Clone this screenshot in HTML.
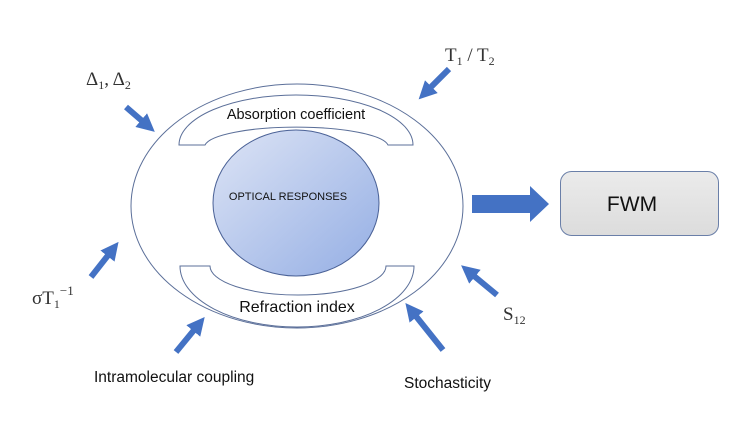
<!DOCTYPE html>
<html><head><meta charset="utf-8"><style>
html,body{margin:0;padding:0;background:#fff;}
svg{display:block;}
</style></head><body>
<svg width="740" height="438" viewBox="0 0 740 438" xmlns="http://www.w3.org/2000/svg">
<defs>
<linearGradient id="g" x1="0" y1="0" x2="1" y2="1">
<stop offset="0" stop-color="#dde4f5"/><stop offset="1" stop-color="#94aee4"/>
</linearGradient>
<linearGradient id="b" x1="0" y1="0" x2="0" y2="1">
<stop offset="0" stop-color="#ebebeb"/><stop offset="1" stop-color="#dcdcdc"/>
</linearGradient>
<marker id="ah" viewBox="0 0 10 10" refX="5" refY="5" markerWidth="3" markerHeight="3" orient="auto">
<path d="M0,0 L10,5 L0,10 Z" fill="#4472c4"/>
</marker>
</defs>
<ellipse cx="297" cy="206" rx="166" ry="122" fill="none" stroke="#5b6f99" stroke-width="1"/>
<path d="M179,145 A117,50 0 0 1 413,145 L388,145 A92,20 0 0 0 205,145 Z" fill="#fff" stroke="#5b6f99" stroke-width="1"/>
<path d="M180,266 L210,266 A88,29 0 0 0 386,266 L414,266 A117,61 0 0 1 180,266 Z" fill="#fff" stroke="#5b6f99" stroke-width="1"/>
<ellipse cx="296" cy="203" rx="83" ry="73" fill="url(#g)" stroke="#4a6196" stroke-width="1"/>
<g font-family="Liberation Sans, sans-serif" fill="#111">
<text x="296" y="119" font-size="14.5" text-anchor="middle">Absorption  coefficient</text>
<text x="297" y="312" font-size="16" text-anchor="middle">Refraction index</text>
<text x="288" y="200" font-size="11" text-anchor="middle">OPTICAL RESPONSES</text>
<text x="94" y="382" font-size="15.5">Intramolecular coupling</text>
<text x="404" y="388" font-size="15.5">Stochasticity</text>
</g>
<g stroke="#4472c4" stroke-width="6" marker-end="url(#ah)" fill="none">
<line x1="126" y1="107" x2="148" y2="126"/>
<line x1="449" y1="69" x2="425" y2="93"/>
<line x1="91" y1="277" x2="113" y2="249"/>
<line x1="176" y1="352" x2="199" y2="324"/>
<line x1="443" y1="350" x2="411" y2="310"/>
<line x1="497" y1="295" x2="468" y2="271"/>
</g>
<path d="M472,195 L530,195 L530,186 L549,204 L530,222 L530,213 L472,213 Z" fill="#4472c4"/>
<rect x="560.5" y="171.5" width="158" height="64" rx="11" fill="url(#b)" stroke="#6a7fa8" stroke-width="1"/>
<text x="632" y="211" font-family="Liberation Sans, sans-serif" font-size="21" text-anchor="middle" fill="#111">FWM</text>
<g font-family="Liberation Serif, serif" fill="#333">
<text x="86" y="85" font-size="19">Δ<tspan font-size="12" dy="4">1</tspan><tspan dy="-4">, Δ</tspan><tspan font-size="12" dy="4">2</tspan></text>
<text x="445" y="61" font-size="19">T<tspan font-size="12" dy="4">1</tspan><tspan dy="-4"> / T</tspan><tspan font-size="12" dy="4">2</tspan></text>
<text x="32" y="304" font-size="19">σT<tspan font-size="12" dy="4">1</tspan><tspan font-size="13" dy="-13">−1</tspan></text>
<text x="503" y="320" font-size="19">S<tspan font-size="12" dy="4">12</tspan></text>
</g>
</svg>
</body></html>
